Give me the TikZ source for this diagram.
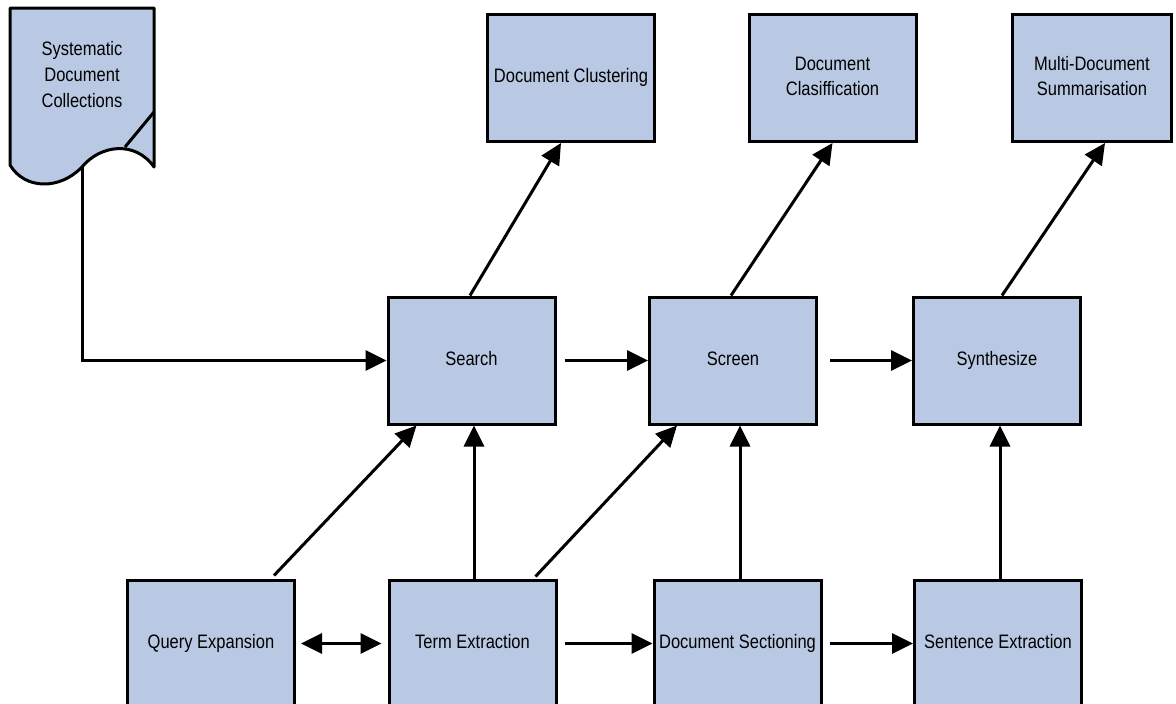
\documentclass[tikz,border=0pt]{standalone}
\usepackage{fontspec}
\setmainfont{Liberation Sans}
\usetikzlibrary{arrows.meta,calc}
\definecolor{boxblue}{RGB}{185,201,227}
\newcommand{\lbl}[1]{\raisebox{-2pt}{\scalebox{1}[1.18]{\begin{tabular}{@{}c@{}}#1\end{tabular}}}}
\begin{document}
\begin{tikzpicture}[x=1pt,y=-1pt,
  proc/.style={draw=black, line width=3pt, fill=boxblue, minimum width=167pt, minimum height=127pt,
    inner sep=0pt, align=center, font=\fontsize{16.5}{21}\selectfont},
  conn/.style={line width=3pt, -{Triangle[length=21pt,width=20pt]}},
  biconn/.style={line width=3pt, {Triangle[length=21pt,width=20pt]}-{Triangle[length=21pt,width=20pt]}}
]
\useasboundingbox (0,0) rectangle (1176,704);
\clip (0,0) rectangle (1176,704);
\fill[white] (0,0) rectangle (1176,704);

% document shape
\draw[line width=3pt, fill=boxblue, line join=round]
  (10,8) -- (154,8) -- (154,167)
  .. controls (135,140) and (100,145) .. (82,167)
  .. controls (60,190) and (25,190) .. (10,165) -- cycle;
\draw[line width=3pt] (125,147) -- (154,112);
\node[align=center, inner sep=0pt, font=\fontsize{16.5}{22}\selectfont] (doc) at (82,76) {\lbl{Systematic\\Document\\Collections}};
\coordinate (docout) at (82,167);

% nodes
\node[proc] (search) at (471.5,360.5) {\lbl{Search}};
\node[proc] (screen) at (733,360.5) {\lbl{Screen}};
\node[proc] (synth) at (997,360.5) {\lbl{Synthesize}};
\node[proc] (clust) at (571,78) {\lbl{Document Clustering}};
\node[proc] (clas) at (832.5,78) {\lbl{Document\\Clasiffication}};
\node[proc, minimum width=159pt] (summ) at (1092,78) {\lbl{Multi-Document\\Summarisation}};
\node[proc] (query) at (211,643.5) {\lbl{Query Expansion}};
\node[proc] (term) at (472.5,643.5) {\lbl{Term Extraction}};
\node[proc] (docsec) at (737.5,643.5) {\lbl{Document Sectioning}};
\node[proc] (sent) at (998,643.5) {\lbl{Sentence Extraction}};

% connectors
\draw[conn] (docout) |- (search.west);
\draw[conn, shorten <=8pt] (search.east) -- (screen.west);
\draw[conn, shorten <=12pt] (screen.east) -- (synth.west);
\draw[conn, shorten <=7pt] (term.east) -- (docsec.west);
\draw[conn, shorten <=7pt] (docsec.east) -- (sent.west);
\draw[biconn, shorten <=5pt, shorten >=6pt] (query.east) -- (term.west);

\draw[conn] ([xshift=63pt,yshift=3pt]query.north) -- ([xshift=-55pt]search.south);
\draw[conn] ([xshift=1.5pt]term.north) -- ([xshift=1.5pt]term.north |- search.south);
\draw[conn] ([xshift=63pt,yshift=2pt]term.north) -- ([xshift=-56pt]screen.south);
\draw[conn] ([xshift=2.5pt]docsec.north) -- ([xshift=2.5pt]docsec.north |- screen.south);
\draw[conn] ([xshift=2pt]sent.north) -- ([xshift=2pt]sent.north |- synth.south);

\draw[conn] ([xshift=-1.5pt]search.north) -- ([xshift=-10pt]clust.south);
\draw[conn] ([xshift=-2pt]screen.north) -- ([xshift=0pt]clas.south);
\draw[conn] ([xshift=5pt]synth.north) -- ([xshift=13pt]summ.south);
\end{tikzpicture}
\end{document}
